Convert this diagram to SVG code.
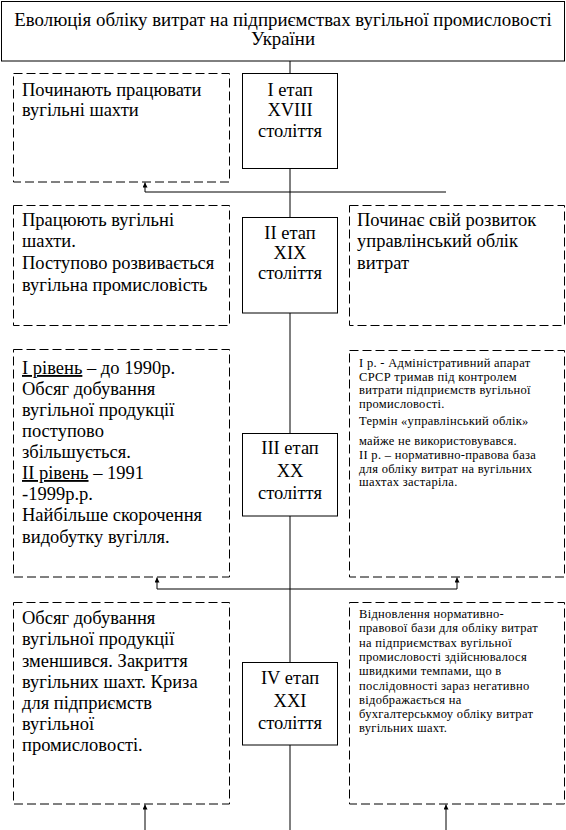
<svg xmlns="http://www.w3.org/2000/svg" width="566" height="830" viewBox="0 0 566 830">
<style>
.bg{fill:#fff}
.solid{fill:#fff;stroke:#000;stroke-width:1}
.dash{fill:#fff;stroke:#000;stroke-width:1;stroke-dasharray:9 4}
.ln{fill:none;stroke:#000;stroke-width:1}
.t{font-family:'Liberation Serif','Times New Roman',serif;font-size:18.5px;fill:#000}
.h{font-size:18.85px}
.c{text-anchor:middle}
.s{font-family:'Liberation Serif','Times New Roman',serif;font-size:12.5px;letter-spacing:0.3px;fill:#000}
.u{text-decoration:underline}
</style>
<defs>
<marker id="arr" viewBox="0 0 10 10" refX="10" refY="5" markerWidth="7" markerHeight="5" markerUnits="userSpaceOnUse" orient="auto">
<path d="M0,0 L10,5 L0,10 z" fill="#000"/>
</marker>
</defs>
<rect class="bg" x="0" y="0" width="566" height="830"/>
<g id="connectors">
<line class="ln" x1="290" y1="61" x2="290" y2="830"/>
<polyline class="ln" points="446,192 145,192 145,182.5" marker-end="url(#arr)"/>
<polyline class="ln" points="290,589 157,589 157,577.5" marker-end="url(#arr)"/>
<polyline class="ln" points="290,589 457,589 457,577.5" marker-end="url(#arr)"/>
<line class="ln" x1="145" y1="830" x2="145" y2="804.5" marker-end="url(#arr)"/>
<line class="ln" x1="446" y1="830" x2="446" y2="804.5" marker-end="url(#arr)"/>
</g>
<g id="title">
<rect class="solid" x="1.5" y="1.5" width="563" height="59.5"/>
<text class="t h c" x="283" y="26">Еволюція обліку витрат на підприємствах вугільної промисловості</text>
<text class="t h c" x="283" y="45">України</text>
</g>
<g id="stage1-desc">
<rect class="dash" x="13.5" y="73.5" width="216" height="108.5"/>
<text class="t" x="22" y="96">Починають працювати</text>
<text class="t" x="22" y="116">вугільні шахти</text>
</g>
<g id="stage1">
<rect class="solid" x="242.5" y="73.5" width="95" height="95"/>
<text class="t c" x="290" y="96">І етап</text>
<text class="t c" x="290" y="116">ХVIII</text>
<text class="t c" x="290" y="137">століття</text>
</g>
<g id="stage2-desc-left">
<rect class="dash" x="13.5" y="205.5" width="216" height="120"/>
<text class="t" x="22" y="226">Працюють вугільні</text>
<text class="t" x="22" y="247">шахти.</text>
<text class="t" x="22" y="269">Поступово розвивається</text>
<text class="t" x="22" y="291">вугільна промисловість</text>
</g>
<g id="stage2">
<rect class="solid" x="242.5" y="217.5" width="95" height="95.5"/>
<text class="t c" x="290" y="239">ІІ етап</text>
<text class="t c" x="290" y="259">ХІХ</text>
<text class="t c" x="290" y="279">століття</text>
</g>
<g id="stage2-desc-right">
<rect class="dash" x="349.5" y="205.5" width="215" height="120"/>
<text class="t" x="357" y="226">Починає свій розвиток</text>
<text class="t" x="357" y="247">управлінський облік</text>
<text class="t" x="357" y="269">витрат</text>
</g>
<g id="stage3-desc-left">
<rect class="dash" x="13.5" y="349.5" width="216" height="227.5"/>
<text class="t" x="22" y="374"><tspan class="u">І рівень</tspan> – до 1990р.</text>
<text class="t" x="22" y="395">Обсяг добування</text>
<text class="t" x="22" y="416">вугільної продукції</text>
<text class="t" x="22" y="437">поступово</text>
<text class="t" x="22" y="458">збільшується.</text>
<text class="t" x="22" y="479"><tspan class="u">ІІ рівень</tspan> – 1991</text>
<text class="t" x="22" y="500">-1999р.р.</text>
<text class="t" x="22" y="521">Найбільше скорочення</text>
<text class="t" x="22" y="543">видобутку вугілля.</text>
</g>
<g id="stage3">
<rect class="solid" x="242.5" y="433.5" width="95" height="82.5"/>
<text class="t c" x="290" y="454">ІІІ етап</text>
<text class="t c" x="290" y="477">ХХ</text>
<text class="t c" x="290" y="499">століття</text>
</g>
<g id="stage3-desc-right">
<rect class="dash" x="349.5" y="350.5" width="215" height="226.5"/>
<text class="s" x="359" y="367">І р. - Адміністративний апарат</text>
<text class="s" x="359" y="380.5">СРСР тримав під контролем</text>
<text class="s" x="359" y="394">витрати підприємств вугільної</text>
<text class="s" x="359" y="407.5">промисловості.</text>
<text class="s" x="359" y="425">Термін «управлінський облік»</text>
<text class="s" x="359" y="445">майже не використовувався.</text>
<text class="s" x="359" y="459">ІІ р. – нормативно-правова база</text>
<text class="s" x="359" y="472.5">для обліку витрат на вугільних</text>
<text class="s" x="359" y="486">шахтах застаріла.</text>
</g>
<g id="stage4-desc-left">
<rect class="dash" x="13.5" y="602.5" width="216" height="201.5"/>
<text class="t" x="22" y="624">Обсяг добування</text>
<text class="t" x="22" y="645">вугільної продукції</text>
<text class="t" x="22" y="667">зменшився. Закриття</text>
<text class="t" x="22" y="688">вугільних шахт. Криза</text>
<text class="t" x="22" y="709">для підприємств</text>
<text class="t" x="22" y="730">вугільної</text>
<text class="t" x="22" y="751">промисловості.</text>
</g>
<g id="stage4">
<rect class="solid" x="242.5" y="662.5" width="95" height="82.5"/>
<text class="t c" x="290" y="684">IV етап</text>
<text class="t c" x="290" y="707">ХХІ</text>
<text class="t c" x="290" y="729">століття</text>
</g>
<g id="stage4-desc-right">
<rect class="dash" x="349.5" y="602.5" width="215" height="201.5"/>
<text class="s" x="359" y="618">Відновлення нормативно-</text>
<text class="s" x="359" y="632.3">правової бази для обліку витрат</text>
<text class="s" x="359" y="646.6">на підприємствах вугільної</text>
<text class="s" x="359" y="660.9">промисловості здійснювалося</text>
<text class="s" x="359" y="675.2">швидкими темпами, що в</text>
<text class="s" x="359" y="689.5">послідовності зараз негативно</text>
<text class="s" x="359" y="703.8">відображається на</text>
<text class="s" x="359" y="718.1">бухгалтерськмоу обліку витрат</text>
<text class="s" x="359" y="732.4">вугільних шахт.</text>
</g>
</svg>
